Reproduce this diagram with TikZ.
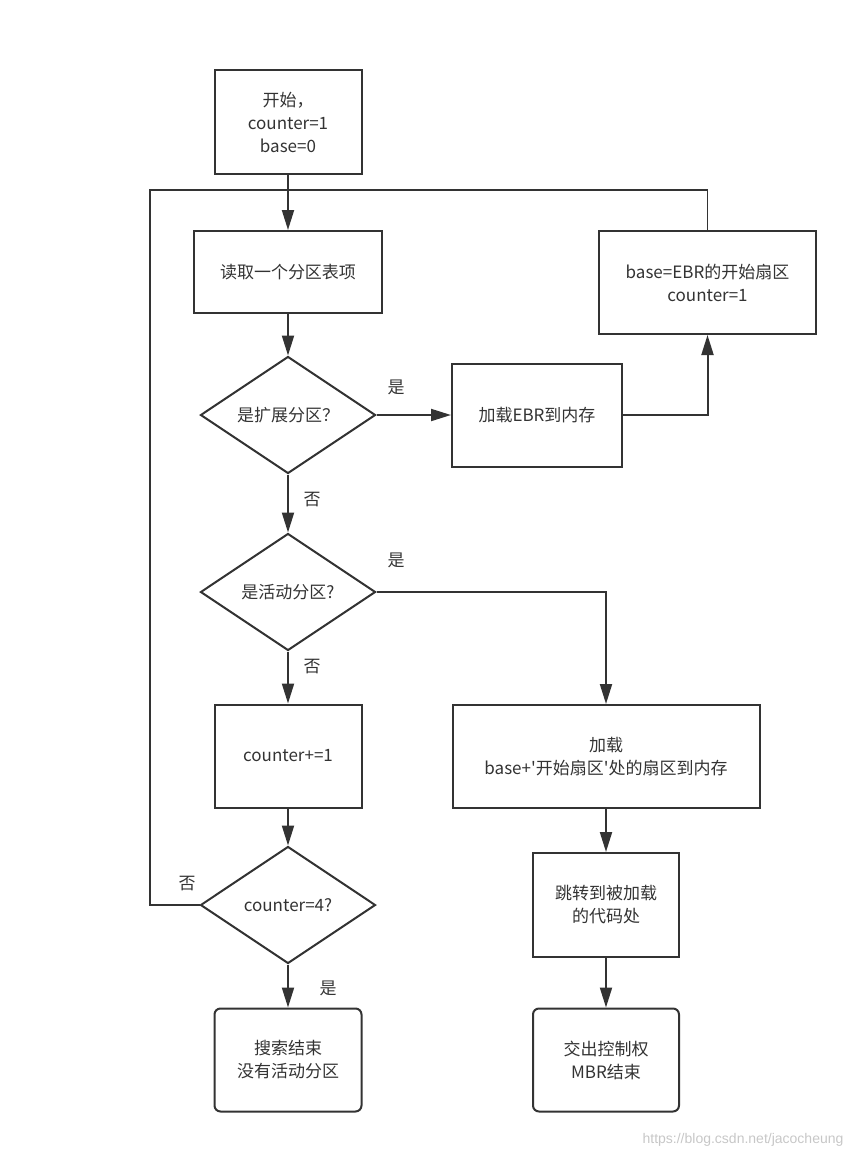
\documentclass[tikz,border=0pt]{standalone}
\usepackage{fontspec}
\setmainfont{Noto Sans CJK SC}
\newfontfamily\markfont{Liberation Sans}
\usepackage{tikz}
\usetikzlibrary{arrows.meta}
\usetikzlibrary{shapes}
\definecolor{ink}{HTML}{333333}

\begin{document}
\begin{tikzpicture}[x=0.5pt,y=-0.5pt]
\tikzstyle{every node}=[font=\fontsize{8.5}{11.5}\selectfont,text=ink]
\tikzstyle{stepbox}=[rectangle,draw=ink,line width=1pt,align=center,inner sep=2pt]
\tikzstyle{endbox}=[stepbox,rounded corners=3pt]
\tikzstyle{test}=[diamond,draw=ink,line width=1pt,inner sep=0pt,aspect=1.5,minimum width=87.5pt,minimum height=58.5pt]
\tikzstyle{flow}=[draw=ink,line width=1pt,-{Triangle[length=10pt,width=6pt]}]
\tikzstyle{back}=[draw=ink,line width=0.9pt]
\useasboundingbox (0,0) rectangle (864,1158);
% left column
\node[stepbox,minimum width=73.5pt,minimum height=52pt] (start) at (288,122) {开始，\\counter=1\\base=0};
\node[stepbox,minimum width=94pt,minimum height=41pt] (read) at (288,272) {读取一个分区表项};
\node[test] (isext) at (288,415) {是扩展分区？};
\node[test] (isact) at (288,592) {是活动分区?};
\node[stepbox,minimum width=73.5pt,minimum height=51.5pt] (incr) at (288,756) {counter+=1};
\node[test] (isfour) at (288,905) {counter=4?};
\node[endbox,minimum width=73.5pt,minimum height=51.5pt] (nofound) at (288,1060) {搜索结束\\没有活动分区};
% right column
\node[stepbox,minimum width=85pt,minimum height=51.5pt] (loadebr) at (537,415) {加载EBR到内存};
\node[stepbox,minimum width=108.5pt,minimum height=51.5pt] (ebrset) at (707.5,282.5) {base=EBR的开始扇区\\counter=1};
\node[stepbox,minimum width=153.5pt,minimum height=51.5pt] (loadboot) at (606,756.5) {加载\\base+\textquotesingle 开始扇区\textquotesingle 处的扇区到内存};
\node[stepbox,minimum width=73pt,minimum height=52pt] (jump) at (606,905) {跳转到被加载\\的代码处};
\node[endbox,minimum width=73pt,minimum height=51.5pt] (handoff) at (606,1060) {交出控制权\\MBR结束};
% labels
\node (yes1) at (396,387) {是};
\node (no1) at (312,500) {否};
\node (yes2) at (396,560) {是};
\node (no2) at (312,667) {否};
\node (no3) at (187,884) {否};
\node (yes3) at (328,988) {是};
\node[font=\markfont\fontsize{7}{8}\selectfont,text=black!22] (mark) at (743,1140) {https://blog.csdn.net/jacocheung};
\coordinate (loopL) at (150,190);
% connectors
\draw[flow] (start) -- (read);
\draw[flow] (read) -- (isext);
\draw[flow] (isext) -- (loadebr);
\draw[flow] (loadebr.east) -| (ebrset.south);
\draw[back] (isfour.west) -| (loopL) -| (ebrset.north);
\draw[flow] (isext) -- (isact);
\draw[flow] (isact.east) -| (loadboot.north);
\draw[flow] (isact) -- (incr);
\draw[flow] (incr) -- (isfour);
\draw[flow] (isfour) -- (nofound);
\draw[flow] (loadboot) -- (jump);
\draw[flow] (jump) -- (handoff);
\end{tikzpicture}
\end{document}
